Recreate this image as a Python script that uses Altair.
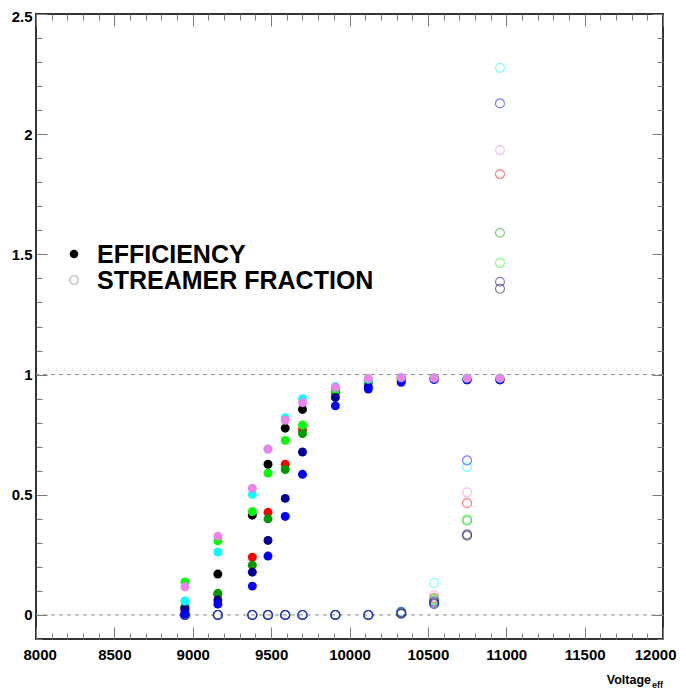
import altair as alt
import pandas as pd

FONT = "Liberation Sans"

voltage = [8950, 9160, 9380, 9480, 9590, 9700, 9910, 10120, 10330, 10540, 10750, 10960]

series = ["black", "red", "darkgreen", "lime", "navy", "blue", "cyan", "violet"]
colors = ["#000000", "#ff0000", "#009900", "#00ff00", "#000099", "#0000ff", "#00ffff", "#ee82ee"]

# efficiency (filled markers)
eff = {
    "black":     [0.030, 0.170, 0.415, 0.627, 0.777, 0.855, 0.925, 0.975, 0.985, 0.985, 0.982, 0.982],
    "red":       [0.020, 0.085, 0.240, 0.427, 0.627, 0.770, 0.930, 0.975, 0.985, 0.985, 0.982, 0.982],
    "darkgreen": [0.034, 0.090, 0.207, 0.400, 0.605, 0.755, 0.930, 0.967, 0.985, 0.985, 0.982, 0.982],
    "lime":      [0.137, 0.308, 0.430, 0.590, 0.726, 0.790, 0.934, 0.975, 0.985, 0.985, 0.985, 0.985],
    "navy":      [0.025, 0.062, 0.178, 0.310, 0.485, 0.678, 0.905, 0.950, 0.975, 0.980, 0.978, 0.978],
    "blue":      [0.004, 0.045, 0.120, 0.245, 0.410, 0.585, 0.870, 0.940, 0.968, 0.980, 0.978, 0.978],
    "cyan":      [0.058, 0.262, 0.502, 0.690, 0.820, 0.900, 0.950, 0.980, 0.987, 0.985, 0.985, 0.985],
    "violet":    [0.117, 0.328, 0.527, 0.690, 0.810, 0.883, 0.947, 0.983, 0.987, 0.985, 0.985, 0.985],
}

# streamer fraction (open markers)
streamer = {
    "black":     [0.0, 0.0, 0.0, 0.0, 0.0, 0.0, 0.0, 0.0, 0.005, 0.050, 0.330, 1.357],
    "red":       [0.0, 0.0, 0.0, 0.0, 0.0, 0.0, 0.0, 0.0, 0.010, 0.070, 0.465, 1.834],
    "darkgreen": [0.0, 0.0, 0.0, 0.0, 0.0, 0.0, 0.0, 0.0, 0.008, 0.060, 0.392, 1.590],
    "lime":      [0.0, 0.0, 0.0, 0.0, 0.0, 0.0, 0.0, 0.0, 0.010, 0.065, 0.398, 1.465],
    "cyan":      [0.0, 0.0, 0.0, 0.0, 0.0, 0.0, 0.0, 0.0, 0.015, 0.133, 0.615, 2.276],
    "violet":    [0.0, 0.0, 0.0, 0.0, 0.0, 0.0, 0.0, 0.0, 0.012, 0.083, 0.510, 1.934],
    "navy":      [0.0, 0.0, 0.0, 0.0, 0.0, 0.0, 0.0, 0.0, 0.005, 0.045, 0.335, 1.386],
    "blue":      [0.0, 0.0, 0.0, 0.0, 0.0, 0.0, 0.0, 0.0, 0.012, 0.055, 0.643, 2.128],
}

x_major = [8000, 8500, 9000, 9500, 10000, 10500, 11000, 11500, 12000]
x_minor = [8100, 8200, 8300, 8400, 8600, 8700, 8800, 8900, 9100, 9200, 9300, 9400,
           9600, 9700, 9800, 9900, 10100, 10200, 10300, 10400, 10600, 10700, 10800, 10900,
           11100, 11200, 11300, 11400, 11600, 11700, 11800, 11900]
y_major = [0, 0.5, 1, 1.5, 2, 2.5]
y_minor = [-0.1, 0.1, 0.2, 0.3, 0.4, 0.6, 0.7, 0.8, 0.9, 1.1, 1.2, 1.3, 1.4,
           1.6, 1.7, 1.8, 1.9, 2.1, 2.2, 2.3, 2.4]
ref_lines = [0, 1]
legend_labels = ["EFFICIENCY", "STREAMER FRACTION"]
x_title = ["Voltage", "eff"]

W, H = 627, 625

rows_eff = []
for i, s in enumerate(series):
    for v, f in zip(voltage, eff[s]):
        rows_eff.append({"v": v, "f": f, "series": s, "o": i})
df_eff = pd.DataFrame(rows_eff)

rows_st = []
for i, s in enumerate(streamer.keys()):
    for v, f in zip(voltage, streamer[s]):
        rows_st.append({"v": v, "f": f, "series": s, "o": i})
df_st = pd.DataFrame(rows_st)

xscale = alt.Scale(domain=[8000, 12000], nice=False, zero=False)
yscale = alt.Scale(domain=[-0.1, 2.5], nice=False, zero=False)
cscale = alt.Scale(domain=series, range=colors)

open_pts = alt.Chart(df_st).mark_point(shape="circle", filled=False, size=80,
                                        strokeWidth=1.2, opacity=0.5).encode(
    x=alt.X("v:Q", scale=xscale, axis=None),
    y=alt.Y("f:Q", scale=yscale, axis=None),
    color=alt.Color("series:N", scale=cscale, legend=None),
    order="o:Q",
)

filled_pts = alt.Chart(df_eff).mark_circle(size=80, opacity=1).encode(
    x=alt.X("v:Q", scale=xscale, axis=None),
    y=alt.Y("f:Q", scale=yscale, axis=None),
    color=alt.Color("series:N", scale=cscale, legend=None),
    order="o:Q",
)

rules = alt.Chart(pd.DataFrame({"y": ref_lines})).mark_rule(
    color="#8a8a8a", strokeDash=[4, 4], strokeWidth=1).encode(
    y=alt.Y("y:Q", scale=yscale, axis=None))

dummy = pd.DataFrame({"v": [voltage[0]], "f": [0.0]})


def axis_layer(xaxis, yaxis):
    return alt.Chart(dummy).mark_point(opacity=0).encode(
        x=alt.X("v:Q", scale=xscale, axis=xaxis),
        y=alt.Y("f:Q", scale=yscale, axis=yaxis),
    )


lab_common = dict(ticks=False, domain=False, grid=False, title=None,
                  labelFont=FONT, labelFontSize=15, labelFontWeight="bold",
                  labelColor="#000000", labelOverlap=False, labelBound=False)


def tick_axis(orient, values, size):
    return alt.Axis(orient=orient, values=values, labels=False, domain=False,
                    grid=False, title=None, ticks=True, tickSize=size,
                    offset=-size, tickColor="#7a7a7a", tickWidth=1)


ax_labels = axis_layer(
    alt.Axis(orient="bottom", values=x_major, format="d", labelPadding=8,
             labelFlush=True, labelFlushOffset=13, **lab_common),
    alt.Axis(orient="left", values=y_major, format="~g", labelPadding=4,
             labelFlush=5, labelFlushOffset=5, **lab_common),
)
ax_major1 = axis_layer(tick_axis("bottom", x_major, 12), tick_axis("left", y_major, 11))
ax_minor1 = axis_layer(tick_axis("bottom", x_minor, 6), tick_axis("left", y_minor, 6))
ax_major2 = axis_layer(tick_axis("top", x_major, 12), tick_axis("right", y_major, 11))
ax_minor2 = axis_layer(tick_axis("top", x_minor, 6), tick_axis("right", y_minor, 6))

leg_dot = alt.Chart(pd.DataFrame({"t": [legend_labels[0]]})).mark_circle(
    size=72, color="#000000", opacity=1).encode(x=alt.value(38), y=alt.value(240))
leg_ring = alt.Chart(pd.DataFrame({"t": [legend_labels[1]]})).mark_point(
    shape="circle", filled=False, size=72, color="#8a8a8a", strokeWidth=1.2).encode(
    x=alt.value(38), y=alt.value(266))
leg_txt1 = alt.Chart(pd.DataFrame({"t": [legend_labels[0]]})).mark_text(
    align="left", baseline="alphabetic", font=FONT, fontSize=25, fontWeight="bold",
    color="#000000").encode(x=alt.value(61), y=alt.value(249), text="t:N")
leg_txt2 = alt.Chart(pd.DataFrame({"t": [legend_labels[1]]})).mark_text(
    align="left", baseline="alphabetic", font=FONT, fontSize=25, fontWeight="bold",
    color="#000000").encode(x=alt.value(61), y=alt.value(275), text="t:N")

title_main = alt.Chart(pd.DataFrame({"t": [x_title[0]]})).mark_text(
    align="right", baseline="alphabetic", font=FONT, fontSize=12.5, fontWeight="bold",
    color="#000000").encode(x=alt.value(615), y=alt.value(670), text="t:N")
title_sub = alt.Chart(pd.DataFrame({"t": [x_title[1]]})).mark_text(
    align="left", baseline="alphabetic", font=FONT, fontSize=9, fontWeight="bold",
    color="#000000").encode(x=alt.value(616), y=alt.value(674), text="t:N")

chart = alt.layer(
    ax_labels, ax_major1, ax_minor1, ax_major2, ax_minor2,
    rules, open_pts, filled_pts,
    leg_dot, leg_ring, leg_txt1, leg_txt2, title_main, title_sub,
).resolve_axis(x="independent", y="independent").properties(
    width=W, height=H,
    autosize=alt.AutoSizeParams(type="none"),
    padding={"left": 28, "top": 6, "right": 15, "bottom": 56},
    background="#ffffff",
).configure_view(stroke="#333333", strokeWidth=2)

chart.save("out.html", embed_options={"renderer": "svg", "actions": False})
